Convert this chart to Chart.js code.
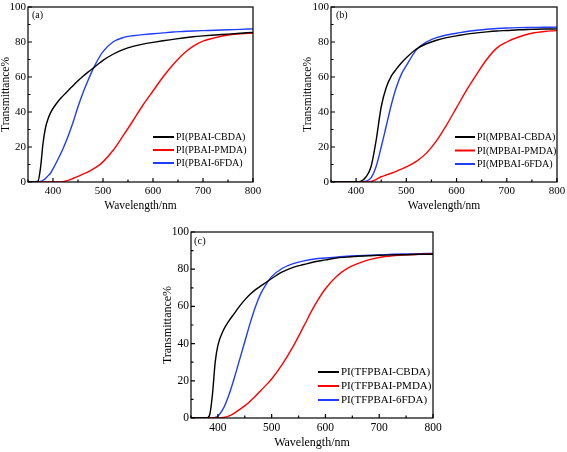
<!DOCTYPE html>
<html><head><meta charset="utf-8">
<script src="https://cdn.jsdelivr.net/npm/chart.js@4.4.1/dist/chart.umd.min.js"></script>
<style>
html,body{margin:0;padding:0;background:#fff;}
body{width:567px;height:452px;position:relative;overflow:hidden;}
.p{position:absolute;}
canvas{display:block;}
</style></head><body>
<div class="p" style="left:0px;top:0px"><canvas id="ca" width="283" height="215"></canvas></div>
<div class="p" style="left:283px;top:0px"><canvas id="cb" width="284" height="215"></canvas></div>
<div class="p" style="left:140px;top:225px"><canvas id="cc" width="306" height="227"></canvas></div>
<script>
// ---------- data ----------
const wavelength = [350,360,370,375,380,385,390,395,400,410,420,430,440,450,460,470,480,490,500,520,540,560,580,600,620,640,660,680,700,725,750,775,800];

const namesA = ['PI(PBAI-CBDA)', 'PI(PBAI-PMDA)', 'PI(PBAI-6FDA)'];
const a_CBDA = [0,0,0.5,8,22,31,36,39.5,42, 46,49.2,52.2,55,57.8,60.4,62.8,65,67.3,69.5, 73,75.6,77.5,78.8,79.8,80.7,81.5,82.3,83,83.5, 84,84.5,85,85.5];
const a_PMDA = [0,0,0,0,0,0,0,0,0,0, 0.2,0.9,2,3.2,4.5,5.8,7.3,9.2,11.5, 18,26.3,35,44,52,60,67,73,77.5,80.5, 82.5,84,84.7,85];
const a_6FDA = [0,0,0,0.3,1,2,3.5,5,7.5, 13,19,26,34,43,51,58,64.5,70,74.5, 80,82.5,83.6,84.2,84.7,85.2,85.7,86,86.3,86.5, 86.7,87,87.2,87.5];

const namesB = ['PI(MPBAI-CBDA)', 'PI(MPBAI-PMDA)', 'PI(MPBAI-6FDA)'];
const b_CBDA = [0,0,0,0,0,0,0,0,0, 0.5,3,9,24,43,54,60.5,64.5,68,71, 76,79,81,82.5,83.5,84.5,85.2,85.8,86.3,86.6, 87,87.2,87.4,87.5];
const b_PMDA = [0,0,0,0,0,0,0,0,0,0,0, 0.3,1.5,3,4,5,6.1,7.3,8.6, 11.8,16.5,23.5,32.5,42.5,52.5,61.5,70,76.5,80, 83,85,86,86.5];
const b_6FDA = [0,0,0,0,0,0,0,0,0,0, 0.5,2.5,9,20,32,44,54,61.5,66.5, 75.5,80,82.5,84,85,86,86.7,87.3,87.7,88, 88.2,88.3,88.4,88.5];

const namesC = ['PI(TFPBAI-CBDA)', 'PI(TFPBAI-PMDA)', 'PI(TFPBAI-6FDA)'];
const c_CBDA = [0,0,0,0,0,2,13,30,39, 47,52,56,60,63.5,66.5,69,71,73,75, 78.5,81,82.5,84,85,86,86.5,87,87.2,87.5, 87.7,87.8,88,88];
const c_PMDA = [0,0,0,0,0,0,0,0,0, 0.3,1,2.5,4.5,6.5,9,11.8,14.8,17.8,21, 29,38.5,49.5,60.5,69.5,76,80.3,83,85,86.3, 87.2,87.7,88,88.2];
const c_6FDA = [0,0,0,0,0,0,0,0.3,1, 5,12,21,31,41,51,60,67,72,76, 80.5,83,84.5,85.5,86,86.5,87,87.3,87.5,87.7, 88,88.2,88.3,88.5];

const panelTags = ['(a)', '(b)', '(c)'];
const xTicks = [400, 500, 600, 700, 800];
const xMinorTicks = [350, 450, 550, 650, 750];
const yTicks = [0, 20, 40, 60, 80, 100];
const yMinorTicks = [10, 30, 50, 70, 90];
const xTitle = 'Wavelength/nm';
const yTitle = 'Transmittance%';

// ---------- styling ----------
const colors = ['#000000', '#ff0000', '#1f3cff'];
const FONT = '"Liberation Serif","Times New Roman",serif';

const framePlugin = {
  id: 'frame',
  afterDraw(chart, args, o) {
    const {ctx, chartArea: a, scales} = chart;
    const x = scales.x, y = scales.y;
    ctx.save();
    ctx.strokeStyle = '#000';
    ctx.lineWidth = 1.2;
    ctx.strokeRect(a.left, a.top, a.right - a.left, a.bottom - a.top);
    ctx.beginPath();
    xTicks.forEach(v => { const p = x.getPixelForValue(v); ctx.moveTo(p, a.bottom); ctx.lineTo(p, a.bottom - 4); });
    xMinorTicks.forEach(v => { const p = x.getPixelForValue(v); ctx.moveTo(p, a.bottom); ctx.lineTo(p, a.bottom - 2.5); });
    yTicks.forEach(v => { const p = y.getPixelForValue(v); ctx.moveTo(a.left, p); ctx.lineTo(a.left + 4, p); });
    yMinorTicks.forEach(v => { const p = y.getPixelForValue(v); ctx.moveTo(a.left, p); ctx.lineTo(a.left + 2.5, p); });
    ctx.stroke();
    // panel tag
    ctx.fillStyle = '#000';
    ctx.font = o.tagSize + 'px ' + FONT;
    ctx.textBaseline = 'middle';
    ctx.textAlign = 'left';
    ctx.fillText(o.tag, a.left + o.tagDx, a.top + o.tagDy);
    // legend
    ctx.font = o.legSize + 'px ' + FONT;
    chart.data.datasets.forEach((ds, i) => {
      const yy = o.legY + i * o.legDy;
      ctx.strokeStyle = ds.borderColor;
      ctx.lineWidth = 2;
      ctx.beginPath();
      ctx.moveTo(o.legX, yy); ctx.lineTo(o.legX + o.legLen, yy);
      ctx.stroke();
      ctx.fillStyle = '#000';
      ctx.fillText(ds.label, o.legX + o.legLen + 2, yy + 0.5);
    });
    ctx.restore();
  }
};

function makeChart(id, names, series, tag, L) {
  const datasets = series.map((s, i) => ({
    label: names[i],
    data: wavelength.map((w, k) => ({x: w, y: s[k]})),
    borderColor: colors[i],
    backgroundColor: colors[i],
    borderWidth: 1.4,
    pointRadius: 0,
    cubicInterpolationMode: 'monotone',
    fill: false
  }));
  const W = L.w, H = L.h;
  return new Chart(document.getElementById(id), {
    type: 'line',
    data: {datasets},
    plugins: [framePlugin],
    options: {
      responsive: false,
      animation: false,
      devicePixelRatio: 1,
      layout: {padding: {left: 0, top: L.top, right: W - L.right, bottom: 0}},
      plugins: {
        legend: {display: false},
        tooltip: {enabled: false},
        frame: {tag, tagSize: L.tagSize, tagDx: L.tagDx, tagDy: L.tagDy,
                legX: L.legX, legY: L.legY, legDy: L.legDy, legLen: L.legLen, legSize: L.legSize}
      },
      scales: {
        x: {
          type: 'linear', min: 350, max: 800,
          grid: {display: false, drawTicks: false},
          border: {display: false},
          afterBuildTicks: s => { s.ticks = xTicks.map(v => ({value: v})); },
          afterFit: s => { s.height = H - L.bottom; s.paddingLeft = 0; s.paddingRight = 0; },
          ticks: {color: '#000', font: {family: FONT, size: L.tickSize}, padding: 3, maxRotation: 0, autoSkip: false},
          title: {display: true, text: xTitle, color: '#000', font: {family: FONT, size: L.titleSize}, padding: {top: 0, bottom: L.xTitlePad}}
        },
        y: {
          type: 'linear', min: 0, max: 100,
          grid: {display: false, drawTicks: false},
          border: {display: false},
          afterBuildTicks: s => { s.ticks = yTicks.map(v => ({value: v})); },
          afterFit: s => { s.width = L.left; s.paddingTop = 0; s.paddingBottom = 0; },
          ticks: {color: '#000', font: {family: FONT, size: L.tickSize}, padding: 2, autoSkip: false},
          title: {display: true, text: yTitle, color: '#000', font: {family: FONT, size: L.titleSize}, padding: {top: L.yTitlePad, bottom: 0}}
        }
      }
    }
  });
}

makeChart('ca', namesA, [a_CBDA, a_PMDA, a_6FDA], panelTags[0],
  {w: 283, h: 215, left: 28, top: 7, right: 253, bottom: 182,
   tickSize: 11, titleSize: 11.5, xTitlePad: 2, yTitlePad: -1,
   tagSize: 10, tagDx: 4, tagDy: 8,
   legX: 153, legY: 137, legDy: 13, legLen: 21, legSize: 10});
makeChart('cb', namesB, [b_CBDA, b_PMDA, b_6FDA], panelTags[1],
  {w: 284, h: 215, left: 48, top: 7, right: 274, bottom: 182,
   tickSize: 11, titleSize: 11.5, xTitlePad: 2, yTitlePad: 18,
   tagSize: 10, tagDx: 5, tagDy: 8,
   legX: 172, legY: 137, legDy: 13.5, legLen: 20, legSize: 10});
makeChart('cc', namesC, [c_CBDA, c_PMDA, c_6FDA], panelTags[2],
  {w: 306, h: 227, left: 51, top: 7, right: 293, bottom: 193,
   tickSize: 11.5, titleSize: 12, xTitlePad: 2, yTitlePad: 21,
   tagSize: 10.5, tagDx: 3, tagDy: 9,
   legX: 178, legY: 147, legDy: 14, legLen: 21, legSize: 11});
</script>
</body></html>
